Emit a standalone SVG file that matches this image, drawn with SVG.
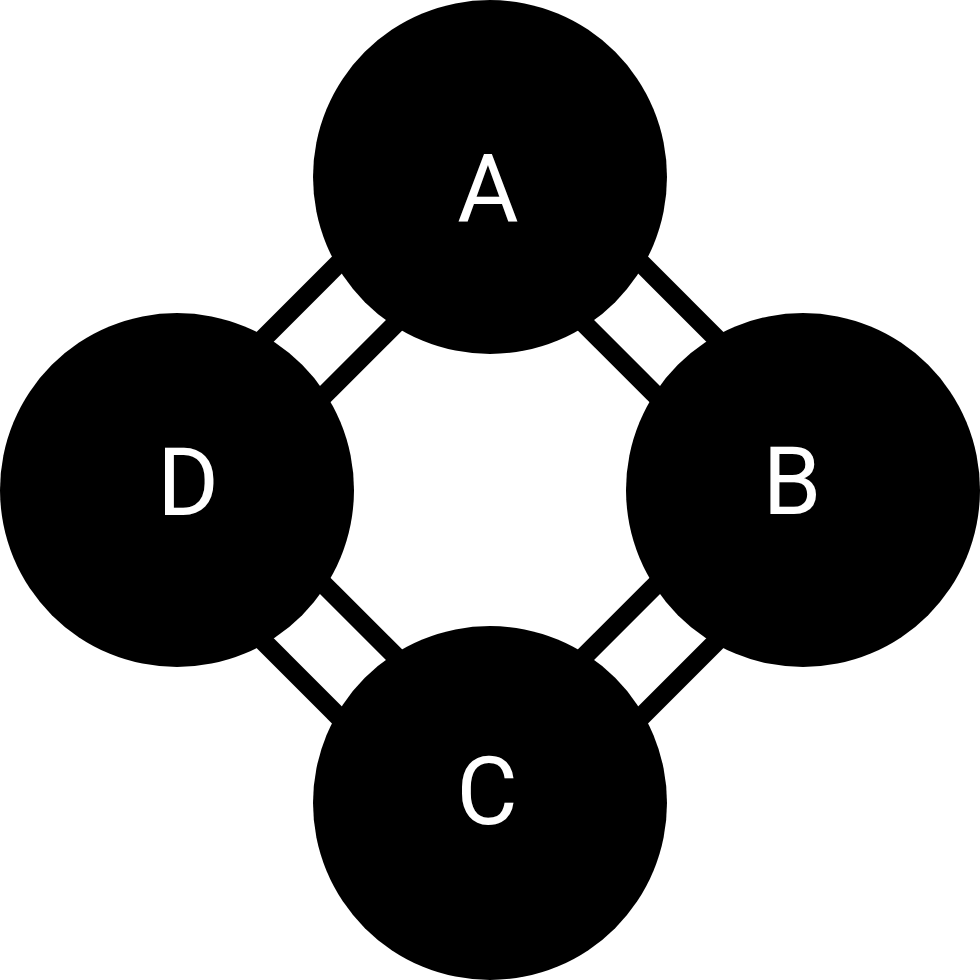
<svg xmlns="http://www.w3.org/2000/svg" width="980" height="980" viewBox="0 0 980 980">
<defs>
<style>
.node{fill:#000}
.bar{stroke:#000;stroke-width:19;fill:none}
.lbl{fill:#fff;font-family:Roboto,"Liberation Sans",sans-serif;font-size:94px;text-anchor:middle}
</style>
<g id="link">
<line class="bar" x1="-100" y1="-46" x2="100" y2="-46"/>
<line class="bar" x1="-100" y1="37" x2="100" y2="37"/>
</g>
</defs>
<rect width="980" height="980" fill="#fff"/>
<g id="connectors">
<use href="#link" transform="translate(333.5,333.5) rotate(-45)"/>
<use href="#link" transform="translate(646.5,333.5) rotate(45)"/>
<use href="#link" transform="translate(646.5,646.5) rotate(135)"/>
<use href="#link" transform="translate(333.5,646.5) rotate(225)"/>
</g>
<g id="node-A"><circle class="node" cx="490" cy="177" r="177"/><text class="lbl" x="488" y="222">A</text></g>
<g id="node-B"><circle class="node" cx="803" cy="490" r="177"/><text class="lbl" x="792" y="514">B</text></g>
<g id="node-C"><circle class="node" cx="490" cy="803" r="177"/><text class="lbl" x="487" y="824">C</text></g>
<g id="node-D"><circle class="node" cx="177" cy="490" r="177"/><text class="lbl" x="188" y="515">D</text></g>
</svg>
